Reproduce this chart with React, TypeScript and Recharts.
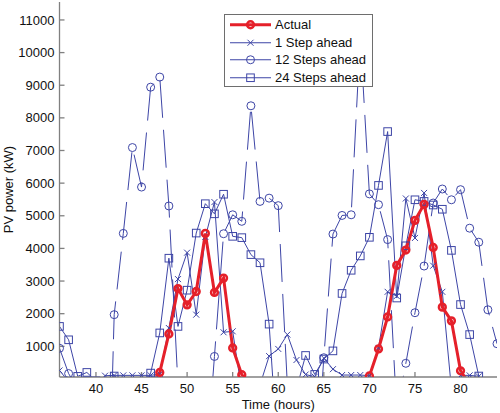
import { LineChart, Line, XAxis, YAxis, Legend } from "recharts";

// hourly PV output (kW); night-time forecasts dip below the axis and get clipped
const hours = [
  36, 37, 38, 39, 40, 41, 42, 43, 44, 45, 46, 47, 48, 49, 50, 51, 52, 53, 54, 55,
  56, 57, 58, 59, 60, 61, 62, 63, 64, 65, 66, 67, 68, 69, 70, 71, 72, 73, 74, 75,
  76, 77, 78, 79, 80, 81, 82, 83, 84,
];

const actual = [
  null, null, null, null, null, null, null, null, null, null,
  -140, 200, 1380, 2770, 2270, 2680, 4460, 2650, 3090, 950, 130, -140,
  null, null, null, null, null, null, null, null, null, null, null, null,
  90, 920, 1900, 3480, 3950, 4860, 5350, 4030, 2200, 1780, 250, -170,
  null, null, null,
];

const step1 = [
  260, -80, -200, -200, -200, 100, 110, 110, 110, 110, 110, 150, 1560, 3060, 3870, 1970,
  4350, 5420, 1430, 1460, -370, -300, -180, 700, 920, 1360, 580, 135, 70, 640, 300, 120,
  120, 120, 100, 950, 2670, 2540, 5530, 4320, 5700, 3470, 2670, -300, 110, 110, 80, null, null,
];

const step12 = [
  940, 165, -300, -1000, -2000, -8000, 1970, 4460, 7090, 5880, 8940, 9250, 5300, -200,
  -1500, -2500, -3000, 690, 4450, 5030, 4830, 8370, 5440, 5540, 5310, -200, -1500, -2500,
  -3500, 650, 4440, 5010, 5030, 10500, 5670, 5340, 4270, -1000, 480, 2030, 3460, 5390,
  5820, 5490, 5800, 4620, 4190, 2120, 1080,
];

const step24 = [
  1610, 1200, 80, 200, -60, -300, 90, -300, -300, -300, 180, 1410, 3700, 1610, 2720, 4470,
  5370, 5060, 5660, 4370, 4330, 3810, 3560, 1680, -2500, -2500, -300, 720, 140, 610, 860,
  2620, 3330, 3770, 4340, 5930, 7580, 2480, 4080, 5490, 5440, 5330, 5200, 3940, 2280, 1360,
  90, null, null,
];

const xTicks = [40, 45, 50, 55, 60, 65, 70, 75, 80];
const yTicks = [1000, 2000, 3000, 4000, 5000, 6000, 7000, 8000, 9000, 10000, 11000];

const RED = "#e5202a";
const BLUE = "#3d45a6";
const AXIS = "#808080";
const FONT = '"Liberation Sans", Arial, sans-serif';

const ok = (p: any) => p.cx != null && p.cy != null && !isNaN(p.cx) && !isNaN(p.cy);

const redDot = (p: any) =>
  ok(p) ? (
    <circle key={`a${p.index}`} cx={p.cx} cy={p.cy} r={3.4} fill="none" stroke={RED} strokeWidth={2.5} />
  ) : (
    <g key={`a${p.index}`} />
  );

const crossDot = (p: any) =>
  ok(p) ? (
    <path
      key={`x${p.index}`}
      d={`M${p.cx - 3},${p.cy - 3}L${p.cx + 3},${p.cy + 3}M${p.cx - 3},${p.cy + 3}L${p.cx + 3},${p.cy - 3}`}
      stroke={BLUE}
      strokeWidth={1}
      fill="none"
    />
  ) : (
    <g key={`x${p.index}`} />
  );

const circleDot = (p: any) =>
  ok(p) ? (
    <circle key={`o${p.index}`} cx={p.cx} cy={p.cy} r={4} fill="none" stroke={BLUE} strokeWidth={1} />
  ) : (
    <g key={`o${p.index}`} />
  );

const squareDot = (p: any) =>
  ok(p) ? (
    <rect key={`s${p.index}`} x={p.cx - 3.8} y={p.cy - 3.8} width={7.6} height={7.6} fill="none" stroke={BLUE} strokeWidth={1} />
  ) : (
    <g key={`s${p.index}`} />
  );

const legendRows = [
  { name: "Actual", color: RED, width: 3, dot: redDot },
  { name: "1 Step ahead", color: BLUE, width: 1, dot: crossDot },
  { name: "12 Steps ahead", color: BLUE, width: 1, dot: circleDot },
  { name: "24 Steps ahead", color: BLUE, width: 1, dot: squareDot },
];

function LegendBox() {
  return (
    <div
      style={{
        boxSizing: "border-box",
        width: 149,
        height: 73,
        background: "#fff",
        border: "1px solid #6e6e6e",
        paddingTop: 1,
        fontFamily: FONT,
        fontSize: 13,
        color: "#111",
      }}
    >
      {legendRows.map((r) => (
        <div key={r.name} style={{ display: "flex", alignItems: "center", height: 17.5 }}>
          <svg width={50} height={17.5} style={{ display: "block" }}>
            <line x1={5} x2={46} y1={8.75} y2={8.75} stroke={r.color} strokeWidth={r.width} />
            {r.dot({ cx: 25.5, cy: 8.75, index: 0 })}
          </svg>
          <span style={{ whiteSpace: "nowrap" }}>{r.name}</span>
        </div>
      ))}
    </div>
  );
}

export default function App() {
  const data = hours.map((h, i) => ({
    h,
    actual: actual[i],
    step1: step1[i],
    step12: step12[i],
    step24: step24[i],
  }));

  return (
    <div style={{ position: "absolute", left: 0, top: 0, width: 500, height: 413, background: "#fff", fontFamily: FONT }}>
      <LineChart width={500} height={413} data={data} margin={{ top: 2, right: 3, bottom: 0, left: 0 }}>
        <XAxis
          dataKey="h"
          type="number"
          domain={[36, 84]}
          allowDataOverflow
          ticks={xTicks}
          height={36}
          tickSize={-5}
          tickMargin={12}
          stroke={AXIS}
          strokeWidth={1.3}
          tick={{ fill: "#111", fontSize: 13, fontFamily: FONT }}
          label={{ value: "Time (hours)", position: "insideBottom", offset: 4, fill: "#111", fontSize: 13, fontFamily: FONT }}
        />
        <XAxis
          xAxisId="top"
          orientation="top"
          dataKey="h"
          type="number"
          domain={[36, 84]}
          allowDataOverflow
          ticks={xTicks}
          height={0}
          tickSize={-5}
          tick={false}
          stroke={AXIS}
          strokeWidth={1.3}
        />
        <YAxis
          type="number"
          domain={[60, 11550]}
          allowDataOverflow
          ticks={yTicks}
          width={59.5}
          tickSize={-5}
          tickMargin={10}
          stroke={AXIS}
          strokeWidth={1.3}
          tick={{ fill: "#111", fontSize: 13, fontFamily: FONT }}
          label={{
            value: "PV power (kW)",
            angle: -90,
            position: "insideLeft",
            offset: 8,
            fill: "#111",
            fontSize: 13,
            fontFamily: FONT,
            style: { textAnchor: "middle" },
          }}
        />
        <YAxis
          yAxisId="right"
          orientation="right"
          type="number"
          domain={[60, 11550]}
          allowDataOverflow
          ticks={yTicks}
          width={0}
          tickSize={-5}
          tick={false}
          stroke={AXIS}
          strokeWidth={1.3}
        />
        <Legend
          layout="vertical"
          align="center"
          verticalAlign="middle"
          wrapperStyle={{ left: 224, top: 14, width: 149, height: 73 }}
          content={() => <LegendBox />}
        />
        <Line type="linear" dataKey="step1" stroke={BLUE} strokeWidth={1} dot={crossDot} activeDot={false} isAnimationActive={false} />
        <Line type="linear" dataKey="step12" stroke={BLUE} strokeWidth={1} strokeDasharray="38 12" dot={circleDot} activeDot={false} isAnimationActive={false} />
        <Line type="linear" dataKey="step24" stroke={BLUE} strokeWidth={1} dot={squareDot} activeDot={false} isAnimationActive={false} />
        <Line type="linear" dataKey="actual" stroke={RED} strokeWidth={3} dot={redDot} activeDot={false} isAnimationActive={false} />
      </LineChart>
    </div>
  );
}
